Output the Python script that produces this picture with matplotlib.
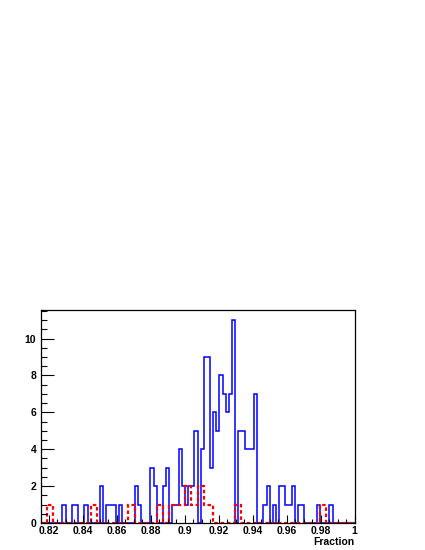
import numpy as np
import matplotlib
matplotlib.use("Agg")
from matplotlib import pyplot as plt
from matplotlib.ticker import MultipleLocator

# histogram binning: 100 bins between 0.815 and 1
X_MIN = 0.815
X_MAX = 1.0
N_BINS = 100

# entries per bin (20 bins per row)
blue_counts = [
    0, 0, 0, 0, 0, 0, 0, 1, 0, 0, 1, 1, 0, 0, 1, 0, 0, 0, 0, 2,
    0, 1, 1, 1, 0, 1, 0, 0, 0, 0, 2, 1, 0, 0, 0, 3, 2, 0, 0, 2,
    3, 0, 1, 1, 4, 2, 1, 2, 2, 5, 0, 4, 9, 9, 3, 6, 5, 8, 7, 6,
    7, 11, 0, 5, 5, 4, 4, 4, 7, 0, 0, 1, 2, 0, 1, 0, 2, 2, 1, 1,
    2, 0, 1, 1, 0, 0, 0, 0, 1, 0, 0, 0, 1, 0, 0, 0, 0, 0, 0, 0,
]
red_counts = [
    0, 0, 1, 1, 0, 0, 0, 0, 0, 0, 0, 0, 0, 0, 0, 0, 1, 1, 0, 0,
    0, 0, 0, 0, 0, 0, 0, 0, 1, 1, 0, 0, 0, 0, 0, 0, 0, 1, 1, 0,
    0, 1, 1, 1, 1, 1, 2, 2, 1, 1, 2, 2, 1, 1, 1, 0, 0, 0, 0, 0,
    0, 0, 1, 1, 0, 0, 0, 0, 0, 0, 0, 0, 0, 0, 0, 0, 0, 0, 0, 0,
    0, 0, 0, 0, 0, 0, 0, 0, 0, 1, 1, 0, 0, 0, 0, 0, 0, 0, 0, 0,
]

x_ticks = [0.82, 0.84, 0.86, 0.88, 0.90, 0.92, 0.94, 0.96, 0.98, 1.0]
x_tick_labels = ["0.82", "0.84", "0.86", "0.88", "0.9", "0.92", "0.94", "0.96", "0.98", "1"]
y_ticks = [0, 2, 4, 6, 8, 10]
x_title = "Fraction"


def main():
    plt.rcParams["font.family"] = ["Liberation Sans", "DejaVu Sans"]
    fig = plt.figure(figsize=(4.25, 5.5), dpi=100)
    ax = fig.add_axes([40.5 / 425, 27 / 550, 314 / 425, 213 / 550])

    edges = np.linspace(X_MIN, X_MAX, N_BINS + 1)
    ax.stairs(blue_counts, edges, color="#0000ff", lw=1.1)
    ax.stairs(red_counts, edges, color="#ff0000", lw=1.6,
              linestyle=(0, (1.6, 1.2)))

    ax.set_xlim(X_MIN, X_MAX)
    ax.set_ylim(0, max(blue_counts) * 1.05)

    ax.set_xticks(x_ticks)
    ax.set_xticklabels(x_tick_labels)
    ax.xaxis.set_minor_locator(MultipleLocator(0.005))
    ax.set_yticks(y_ticks)
    ax.yaxis.set_minor_locator(MultipleLocator(0.5))

    ax.tick_params(axis="both", which="both", direction="in",
                   top=False, right=False, width=0.8, labelsize=7.5)
    ax.tick_params(axis="y", which="major", length=9, pad=3)
    ax.tick_params(axis="y", which="minor", length=4.5)
    ax.tick_params(axis="x", which="major", length=6, pad=2)
    ax.tick_params(axis="x", which="minor", length=3)
    for lab in ax.get_xticklabels() + ax.get_yticklabels():
        lab.set_fontweight("bold")

    for sp in ax.spines.values():
        sp.set_linewidth(0.9)

    ax.set_xlabel(x_title, fontsize=7.5, fontweight="bold", loc="right",
                  labelpad=1)

    fig.savefig("out.png", dpi=100)


if __name__ == "__main__":
    main()
